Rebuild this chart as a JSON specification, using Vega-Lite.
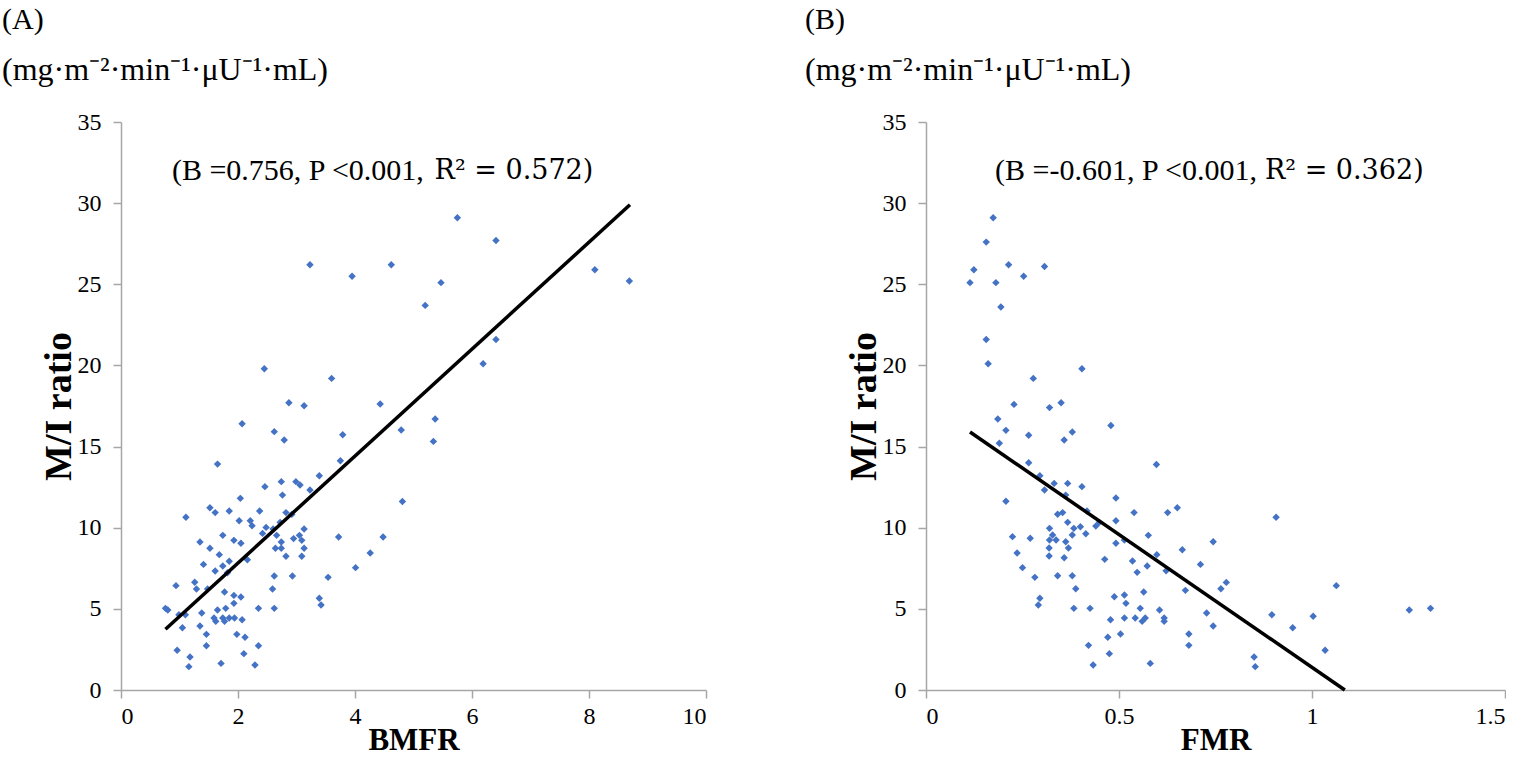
{
  "$schema": "https://vega.github.io/schema/vega-lite/v6.json",
  "background": "white",
  "padding": {"left": 2, "top": 5, "right": 0, "bottom": 5},
  "spacing": 98,
  "config": {
    "view": {"stroke": null},
    "font": "Times New Roman, Liberation Serif, serif",
    "axis": {
      "domainColor": "#a6a6a6", "tickColor": "#a6a6a6", "domainWidth": 1.5, "tickWidth": 1.5,
      "tickSize": 8, "grid": false,
      "labelFont": "Times New Roman, Liberation Serif, serif", "labelFontSize": 24, "labelColor": "#000",
      "titleFont": "Times New Roman, Liberation Serif, serif", "titleFontWeight": "bold", "titleFontSize": 31, "titleColor": "#000"
    },
    "axisY": {"titleFontSize": 38, "titlePadding": -1, "labelPadding": 12},
    "axisX": {"labelPadding": 6, "titlePadding": -3},
    "title": {
      "anchor": "start", "frame": "group", "font": "Times New Roman, Liberation Serif, serif", "fontSize": 30, "fontWeight": "normal",
      "color": "#000", "subtitleFont": "Times New Roman, Liberation Serif, serif", "subtitleFontSize": 32, "subtitleColor": "#000",
      "subtitlePadding": 20, "offset": 24
    }
  },
  "datasets": {
    "bmfr": [
      {"x":5.75,"y":29.1},{"x":6.41,"y":27.7},{"x":3.23,"y":26.2},{"x":3.95,"y":25.5},{"x":4.62,"y":26.2},{"x":5.47,"y":25.1},{"x":5.20,"y":23.7},{"x":6.41,"y":21.6},{"x":6.19,"y":20.1},{"x":2.45,"y":19.8},{"x":3.60,"y":19.2},{"x":8.10,"y":25.9},{"x":8.69,"y":25.2},
      {"x":2.87,"y":17.7},{"x":3.13,"y":17.52},{"x":4.43,"y":17.62},{"x":2.07,"y":16.41},{"x":2.62,"y":15.92},{"x":2.79,"y":15.4},{"x":5.37,"y":16.7},{"x":4.79,"y":16.02},{"x":5.34,"y":15.32},{"x":3.79,"y":15.73},
      {"x":1.65,"y":13.92},{"x":3.75,"y":14.13},{"x":3.39,"y":13.2},{"x":2.74,"y":12.84},{"x":2.99,"y":12.84},{"x":3.06,"y":12.63},{"x":2.46,"y":12.53},{"x":3.23,"y":12.32},{"x":2.76,"y":12.01},{"x":2.04,"y":11.81},{"x":4.81,"y":11.62},
      {"x":1.52,"y":11.23},{"x":1.61,"y":10.93},{"x":1.85,"y":11.03},{"x":2.37,"y":11.03},{"x":2.82,"y":10.93},{"x":2.92,"y":10.82},{"x":1.11,"y":10.64},{"x":2.02,"y":10.43},{"x":2.21,"y":10.43},{"x":2.24,"y":10.12},{"x":2.72,"y":10.33},{"x":2.48,"y":10.02},{"x":2.60,"y":9.92},{"x":3.13,"y":9.92},
      {"x":2.42,"y":9.65},{"x":2.66,"y":9.53},{"x":1.74,"y":9.53},{"x":1.93,"y":9.22},{"x":1.35,"y":9.12},{"x":2.05,"y":9.04},{"x":2.95,"y":9.33},{"x":3.05,"y":9.53},{"x":3.09,"y":9.22},{"x":3.72,"y":9.43},{"x":4.48,"y":9.43},{"x":2.74,"y":9.12},
      {"x":1.52,"y":8.73},{"x":2.64,"y":8.73},{"x":2.74,"y":8.73},{"x":3.13,"y":8.73},{"x":1.68,"y":8.34},{"x":2.82,"y":8.24},{"x":3.09,"y":8.24},{"x":4.26,"y":8.44},{"x":2.16,"y":8.03},{"x":1.85,"y":7.93},{"x":1.41,"y":7.74},{"x":1.74,"y":7.64},{"x":1.61,"y":7.33},{"x":1.82,"y":7.23},
      {"x":2.62,"y":7.02},{"x":2.93,"y":7.02},{"x":3.54,"y":6.94},{"x":4.01,"y":7.54},{"x":0.94,"y":6.43},{"x":1.26,"y":6.64},{"x":1.29,"y":6.22},{"x":1.48,"y":6.22},{"x":2.59,"y":6.22},{"x":1.77,"y":6.04},{"x":1.93,"y":5.83},{"x":2.05,"y":5.73},{"x":3.39,"y":5.65},{"x":3.42,"y":5.24},{"x":1.93,"y":5.34},
      {"x":0.76,"y":5.03},{"x":0.80,"y":4.93},{"x":1.65,"y":4.93},{"x":1.79,"y":5.03},{"x":2.35,"y":5.03},{"x":2.62,"y":5.03},{"x":1.38,"y":4.74},{"x":0.99,"y":4.64},{"x":1.10,"y":4.64},{"x":1.59,"y":4.44},{"x":1.62,"y":4.23},{"x":1.74,"y":4.44},{"x":1.77,"y":4.23},{"x":1.85,"y":4.44},{"x":1.94,"y":4.44},{"x":2.07,"y":4.33},
      {"x":1.35,"y":3.94},{"x":1.05,"y":3.84},{"x":1.46,"y":3.43},{"x":1.98,"y":3.43},{"x":2.12,"y":3.25},{"x":2.35,"y":2.73},{"x":1.46,"y":2.73},{"x":0.96,"y":2.45},{"x":2.10,"y":2.24},{"x":1.18,"y":2.03},{"x":1.71,"y":1.64},{"x":2.29,"y":1.54},{"x":1.16,"y":1.44}
    ],
    "fmr": [
      {"x":0.174,"y":29.1},{"x":0.156,"y":27.6},{"x":0.124,"y":25.9},{"x":0.114,"y":25.1},{"x":0.181,"y":25.1},{"x":0.214,"y":26.2},{"x":0.253,"y":25.5},{"x":0.307,"y":26.1},{"x":0.194,"y":23.6},{"x":0.156,"y":21.6},{"x":0.161,"y":20.1},{"x":0.404,"y":19.8},{"x":0.278,"y":19.2},
      {"x":0.228,"y":17.6},{"x":0.320,"y":17.4},{"x":0.350,"y":17.7},{"x":0.186,"y":16.7},{"x":0.207,"y":16.0},{"x":0.266,"y":15.7},{"x":0.190,"y":15.2},{"x":0.358,"y":15.4},{"x":0.379,"y":15.9},{"x":0.479,"y":16.3},{"x":0.266,"y":14.0},{"x":0.295,"y":13.2},{"x":0.597,"y":13.9},
      {"x":0.332,"y":12.73},{"x":0.367,"y":12.73},{"x":0.307,"y":12.32},{"x":0.404,"y":12.53},{"x":0.362,"y":12.01},{"x":0.207,"y":11.63},{"x":0.492,"y":11.83},{"x":0.417,"y":11.03},{"x":0.539,"y":10.93},{"x":0.626,"y":10.93},{"x":0.651,"y":11.23},{"x":0.341,"y":10.83},{"x":0.354,"y":10.93},
      {"x":0.367,"y":10.33},{"x":0.440,"y":10.1},{"x":0.449,"y":10.33},{"x":0.492,"y":10.43},{"x":0.320,"y":9.96},{"x":0.383,"y":9.96},{"x":0.400,"y":10.06},{"x":0.414,"y":9.63},{"x":0.379,"y":9.55},{"x":0.328,"y":9.55},{"x":0.224,"y":9.45},{"x":0.270,"y":9.35},{"x":0.320,"y":9.24},{"x":0.337,"y":9.24},{"x":0.362,"y":9.14},{"x":0.514,"y":9.24},{"x":0.492,"y":9.04},{"x":0.576,"y":9.53},
      {"x":0.319,"y":8.75},{"x":0.369,"y":8.75},{"x":0.236,"y":8.44},{"x":0.664,"y":8.64},{"x":0.598,"y":8.34},{"x":0.319,"y":8.26},{"x":0.358,"y":8.15},{"x":0.463,"y":8.05},{"x":0.535,"y":7.95},{"x":0.573,"y":7.64},{"x":0.711,"y":7.74},{"x":0.250,"y":7.54},{"x":0.547,"y":7.25},{"x":0.622,"y":7.35},
      {"x":0.282,"y":6.94},{"x":0.341,"y":7.04},{"x":0.379,"y":7.04},{"x":0.388,"y":6.24},{"x":0.672,"y":6.14},{"x":0.564,"y":6.04},{"x":0.488,"y":5.75},{"x":0.514,"y":5.85},{"x":0.295,"y":5.65},{"x":0.291,"y":5.24},{"x":0.518,"y":5.34},{"x":0.383,"y":5.03},{"x":0.425,"y":5.03},{"x":0.555,"y":5.03},{"x":0.605,"y":4.93},{"x":0.727,"y":4.74},
      {"x":0.478,"y":4.33},{"x":0.514,"y":4.44},{"x":0.542,"y":4.44},{"x":0.560,"y":4.23},{"x":0.568,"y":4.44},{"x":0.617,"y":4.44},{"x":0.617,"y":4.23},{"x":0.744,"y":3.94},{"x":0.504,"y":3.45},{"x":0.681,"y":3.45},{"x":0.471,"y":3.25},{"x":0.421,"y":2.75},{"x":0.681,"y":2.75},{"x":0.475,"y":2.24},{"x":0.433,"y":1.54},{"x":0.581,"y":1.64},
      {"x":0.907,"y":10.64},{"x":0.744,"y":9.14},{"x":0.764,"y":6.24},{"x":0.778,"y":6.63},{"x":1.063,"y":6.43},{"x":0.896,"y":4.64},{"x":1.003,"y":4.54},{"x":1.252,"y":4.93},{"x":1.307,"y":5.03},{"x":0.950,"y":3.84},{"x":1.034,"y":2.45},{"x":0.850,"y":2.03},{"x":0.853,"y":1.44}
    ],
    "fitA": [{"x":0.76,"y":3.74},{"x":8.70,"y":29.9}],
    "fitB": [{"x":0.114,"y":15.9},{"x":1.085,"y":0}],
    "noteA1": [{"x":0.87,"y":32.0,"label":"(B =0.756, P <0.001,"}],
    "noteA2": [{"x":5.36,"y":32.0,"label":"R² = 0.572)"}],
    "noteB1": [{"x":0.179,"y":32.0,"label":"(B =-0.601, P <0.001,"}],
    "noteB2": [{"x":0.878,"y":32.0,"label":"R² = 0.362)"}]
  },
  "hconcat": [
    {
      "width": 585, "height": 568,
      "title": {"text": "(A)", "subtitle": "(mg·m⁻²·min⁻¹·μU⁻¹·mL)", "dx": -119},
      "layer": [
        {
          "data": {"name": "bmfr"},
          "mark": {"type": "point", "shape": "diamond", "filled": true, "color": "#4472C4", "size": 55, "opacity": 1},
          "encoding": {
            "x": {"field": "x", "type": "quantitative", "title": "BMFR",
                  "scale": {"domain": [0, 10], "nice": false},
                  "axis": {"values": [0, 2, 4, 6, 8, 10], "format": "~g"}},
            "y": {"field": "y", "type": "quantitative", "title": "M/I ratio",
                  "scale": {"domain": [0, 35], "nice": false},
                  "axis": {"values": [0, 5, 10, 15, 20, 25, 30, 35]}}
          }
        },
        {
          "data": {"name": "fitA"},
          "mark": {"type": "line", "color": "#000", "strokeWidth": 3.5},
          "encoding": {"x": {"field": "x", "type": "quantitative"}, "y": {"field": "y", "type": "quantitative"}}
        },
        {
          "data": {"name": "noteA1"},
          "mark": {"type": "text", "align": "left", "baseline": "middle", "fontSize": 30, "font": "Times New Roman, Liberation Serif, serif", "color": "#000"},
          "encoding": {"x": {"field": "x", "type": "quantitative"}, "y": {"field": "y", "type": "quantitative"}, "text": {"field": "label"}}
        },
        {
          "data": {"name": "noteA2"},
          "mark": {"type": "text", "align": "left", "baseline": "middle", "fontSize": 27, "font": "DejaVu Serif", "color": "#000"},
          "encoding": {"x": {"field": "x", "type": "quantitative"}, "y": {"field": "y", "type": "quantitative"}, "text": {"field": "label"}}
        }
      ]
    },
    {
      "width": 579, "height": 568,
      "title": {"text": "(B)", "subtitle": "(mg·m⁻²·min⁻¹·μU⁻¹·mL)", "dx": -121},
      "layer": [
        {
          "data": {"name": "fmr"},
          "mark": {"type": "point", "shape": "diamond", "filled": true, "color": "#4472C4", "size": 55, "opacity": 1},
          "encoding": {
            "x": {"field": "x", "type": "quantitative", "title": "FMR",
                  "scale": {"domain": [0, 1.5], "nice": false},
                  "axis": {"values": [0, 0.5, 1, 1.5], "format": "~g"}},
            "y": {"field": "y", "type": "quantitative", "title": "M/I ratio",
                  "scale": {"domain": [0, 35], "nice": false},
                  "axis": {"values": [0, 5, 10, 15, 20, 25, 30, 35]}}
          }
        },
        {
          "data": {"name": "fitB"},
          "mark": {"type": "line", "color": "#000", "strokeWidth": 3.5},
          "encoding": {"x": {"field": "x", "type": "quantitative"}, "y": {"field": "y", "type": "quantitative"}}
        },
        {
          "data": {"name": "noteB1"},
          "mark": {"type": "text", "align": "left", "baseline": "middle", "fontSize": 30, "font": "Times New Roman, Liberation Serif, serif", "color": "#000"},
          "encoding": {"x": {"field": "x", "type": "quantitative"}, "y": {"field": "y", "type": "quantitative"}, "text": {"field": "label"}}
        },
        {
          "data": {"name": "noteB2"},
          "mark": {"type": "text", "align": "left", "baseline": "middle", "fontSize": 27, "font": "DejaVu Serif", "color": "#000"},
          "encoding": {"x": {"field": "x", "type": "quantitative"}, "y": {"field": "y", "type": "quantitative"}, "text": {"field": "label"}}
        }
      ]
    }
  ]
}
